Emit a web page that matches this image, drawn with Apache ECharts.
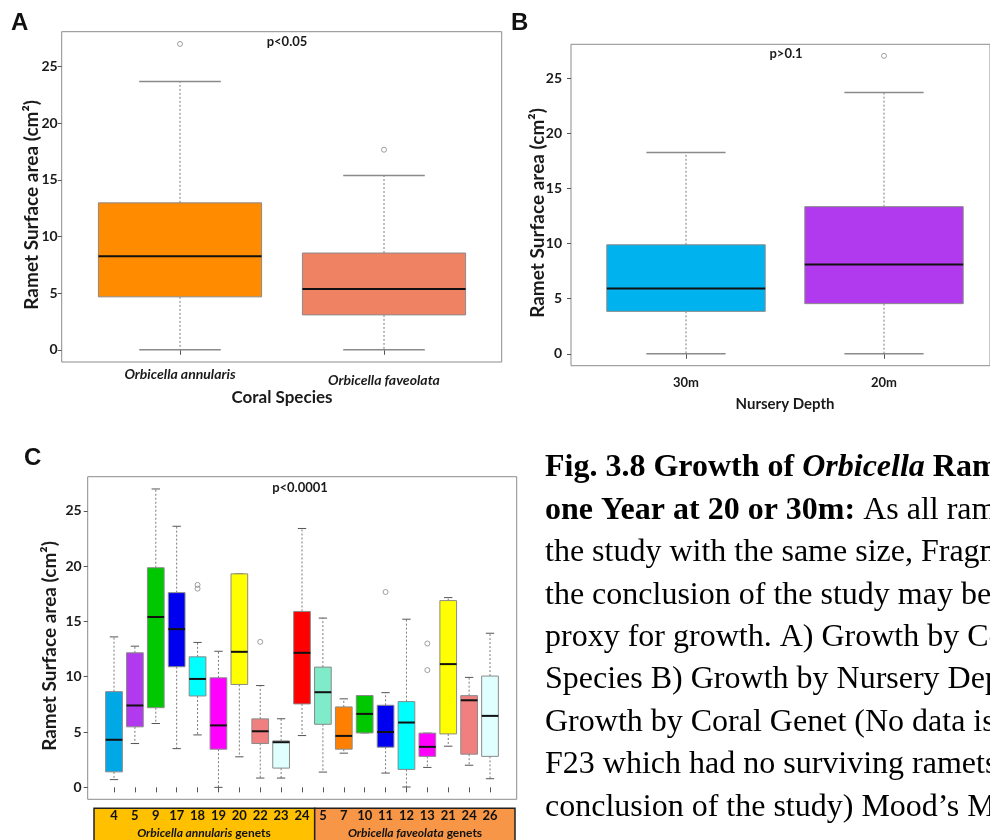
<!DOCTYPE html>
<html>
<head>
<meta charset="utf-8">
<script src="https://cdn.jsdelivr.net/npm/echarts@6/dist/echarts.min.js"></script>
<style>
  html, body { margin: 0; padding: 0; background: #fff; }
  #chart { width: 990px; height: 840px; }
</style>
</head>
<body>
<div id="chart"></div>
<script>
// Box statistics are [lower whisker, Q1, median, Q3, upper whisker]
const speciesNames = ['Orbicella annularis', 'Orbicella faveolata'];
const speciesStats = [
  [0, 4.67, 8.25, 12.97, 23.68],
  [0, 3.08, 5.37, 8.54, 15.38]
];
const speciesOutliers = [[0, 27.0], [1, 17.66]];
const speciesColors = ['#FF8C00', '#EE8262'];

const depthNames = ['30m', '20m'];
const depthStats = [
  [0, 3.85, 5.92, 9.89, 18.26],
  [0, 4.55, 8.10, 13.35, 23.70]
];
const depthOutliers = [[1, 27.03]];
const depthColors = ['#00B2EE', '#B23AEE'];

// Genet keys: A = O. annularis, F = O. faveolata
const genetKeys = ['A4', 'A5', 'A9', 'A17', 'A18', 'A19', 'A20', 'A22', 'A23', 'A24',
                   'F5', 'F7', 'F10', 'F11', 'F12', 'F13', 'F21', 'F24', 'F26'];
const genetStats = [
  [0.70, 1.40, 4.30, 8.65, 13.60],
  [3.96, 5.47, 7.40, 12.16, 12.76],
  [5.77, 7.20, 15.40, 19.85, 26.97],
  [3.50, 10.90, 14.30, 17.60, 23.60],
  [4.74, 8.26, 9.80, 11.80, 13.10],
  [0.00, 3.45, 5.60, 9.90, 12.30],
  [2.76, 9.30, 12.25, 19.30, 19.30],
  [0.84, 3.96, 5.07, 6.19, 9.20],
  [0.84, 1.74, 4.08, 4.20, 6.20],
  [4.68, 7.54, 12.16, 15.90, 23.40],
  [1.38, 5.70, 8.60, 10.87, 15.30],
  [3.09, 3.45, 4.65, 7.27, 8.00],
  [4.92, 4.92, 6.64, 8.30, 8.30],
  [1.29, 3.63, 5.00, 7.42, 8.56],
  [0.03, 1.62, 5.86, 7.75, 15.20],
  [1.80, 2.80, 3.66, 4.90, 4.90],
  [3.72, 4.83, 11.14, 16.88, 17.15],
  [2.00, 3.00, 7.87, 8.29, 9.94],
  [0.78, 2.80, 6.46, 10.06, 13.93]
];
const genetOutliers = [[4, 18.30], [4, 17.96], [7, 13.15], [13, 17.66], [15, 13.00], [15, 10.60]];
const genetColors = ['#00A9E6', '#B23AEE', '#00C800', '#0000F0', '#00FFFF', '#FF00FF', '#FFFF00',
                     '#F08080', '#E0FFFF', '#FF0000', '#7FEBC8', '#FF8000', '#00C800', '#0000F0',
                     '#00FFFF', '#FF00FF', '#FFFF00', '#F08080', '#E0FFFF'];

const yTicks = [0, 5, 10, 15, 20, 25];
const yName = 'Ramet Surface area (cm²)';

const SANS = 'Lato, "Open Sans", sans-serif';
const SERIF = '"Liberation Serif", "Times New Roman", serif';

// Draws one R-style box: dotted whiskers, half-width caps, filled box, black median
function boxItem(colors, capColor, capWidth, medWidth) {
  return function (params, api) {
    const i = api.value(0);
    const ys = [1, 2, 3, 4, 5].map(d => api.coord([i, api.value(d)])[1]);
    const cx = api.coord([i, 0])[0];
    const band = api.size([1, 0])[0];
    const hw = band * 0.4;
    const [yLow, yQ1, yMed, yQ3, yHigh] = ys;
    const dash = { stroke: '#7a7a7a', lineWidth: 1, lineDash: [2, 2] };
    const cap = { stroke: capColor, lineWidth: capWidth };
    return {
      type: 'group',
      children: [
        { type: 'line', shape: { x1: cx, y1: yQ3, x2: cx, y2: yHigh }, style: dash },
        { type: 'line', shape: { x1: cx, y1: yQ1, x2: cx, y2: yLow }, style: dash },
        { type: 'line', shape: { x1: cx - hw / 2, y1: yHigh, x2: cx + hw / 2, y2: yHigh }, style: cap },
        { type: 'line', shape: { x1: cx - hw / 2, y1: yLow, x2: cx + hw / 2, y2: yLow }, style: cap },
        { type: 'rect', shape: { x: cx - hw, y: yQ3, width: 2 * hw, height: yQ1 - yQ3 },
          style: { fill: colors[params.dataIndex], stroke: '#8a8a8a', lineWidth: 1 } },
        { type: 'line', shape: { x1: cx - hw, y1: yMed, x2: cx + hw, y2: yMed },
          style: { stroke: '#111', lineWidth: medWidth } }
      ]
    };
  };
}

function boxSeries(axisIdx, stats, colors, capColor, capWidth, medWidth) {
  return {
    type: 'custom',
    xAxisIndex: axisIdx, yAxisIndex: axisIdx,
    data: stats.map((s, i) => [i].concat(s)),
    encode: { x: 0, y: [1, 2, 3, 4, 5] },
    renderItem: boxItem(colors, capColor, capWidth, medWidth),
    silent: true
  };
}

function outlierSeries(axisIdx, pts, size) {
  return {
    type: 'scatter',
    xAxisIndex: axisIdx, yAxisIndex: axisIdx,
    data: pts,
    symbol: 'circle',
    symbolSize: size,
    itemStyle: { color: 'rgba(255,255,255,0)', borderColor: '#888', borderWidth: 1 },
    silent: true
  };
}

function frameAxis(grid) {
  return { type: 'value', gridIndex: grid, show: false, min: 0, max: 1 };
}

function valueAxis(grid, offset, nameGap, labelMargin) {
  return {
    type: 'value', gridIndex: grid, min: -1.08, max: 28.08, offset: offset, position: 'left',
    axisLine: { show: false },
    splitLine: { show: false },
    axisTick: { show: true, customValues: yTicks, length: 4, lineStyle: { color: '#555' } },
    axisLabel: { customValues: yTicks, margin: labelMargin, fontFamily: SANS, fontWeight: 'bold',
                 fontSize: 14, color: '#1a1a1a' },
    name: yName, nameLocation: 'middle', nameGap: nameGap, nameMoveOverlap: false,
    nameTextStyle: { fontFamily: SANS, fontWeight: 'bold', fontSize: 19, color: '#1a1a1a',
                     padding: [0, 16, 0, 0] }
  };
}

const chart = echarts.init(document.getElementById('chart'), null, { renderer: 'canvas' });

const option = {
  animation: false,
  backgroundColor: '#fff',
  grid: [
    // A: frame and data area
    { left: 61.7, top: 31.7, width: 440, height: 330.3, show: true, borderColor: '#8c8c8c', borderWidth: 1 },
    { left: 78, top: 31.7, width: 408, height: 330.3 },
    // B
    { left: 571, top: 44.3, width: 428, height: 321.4, show: true, borderColor: '#8c8c8c', borderWidth: 1 },
    { left: 587, top: 44.3, width: 396, height: 321.4 },
    // C
    { left: 87.7, top: 476.7, width: 429, height: 322.6, show: true, borderColor: '#8c8c8c', borderWidth: 1 },
    { left: 103.56, top: 476.7, width: 396.9, height: 322.6 }
  ],
  xAxis: [
    frameAxis(0),
    {
      type: 'category', gridIndex: 1, data: speciesNames,
      axisLine: { show: false },
      axisTick: { show: true, alignWithLabel: true, length: 5, lineStyle: { color: '#555' } },
      axisLabel: {
        margin: 5,
        formatter: (v, i) => (i === 1 ? '{lo|' + v + '}' : '{hi|' + v + '}'),
        rich: {
          hi: { fontFamily: SANS, fontStyle: 'italic', fontWeight: 'bold', fontSize: 14, color: '#1a1a1a' },
          lo: { fontFamily: SANS, fontStyle: 'italic', fontWeight: 'bold', fontSize: 14, color: '#1a1a1a',
                padding: [6, 0, 0, 0] }
        }
      },
      name: 'Coral Species', nameLocation: 'middle', nameGap: 27,
      nameTextStyle: { fontFamily: SANS, fontWeight: 'bold', fontSize: 17, color: '#1a1a1a' }
    },
    frameAxis(2),
    {
      type: 'category', gridIndex: 3, data: depthNames,
      axisLine: { show: false },
      axisTick: { show: true, alignWithLabel: true, length: 5, lineStyle: { color: '#555' } },
      axisLabel: { margin: 11, fontFamily: SANS, fontWeight: 'bold', fontSize: 13, color: '#1a1a1a' },
      name: 'Nursery Depth', nameLocation: 'middle', nameGap: 31,
      nameTextStyle: { fontFamily: SANS, fontWeight: 'bold', fontSize: 15, color: '#1a1a1a' }
    },
    frameAxis(4),
    {
      type: 'category', gridIndex: 5, data: genetKeys, z: 10,
      axisLine: { show: false },
      axisTick: { show: true, alignWithLabel: true, interval: 0, length: 5, lineStyle: { color: '#555' } },
      axisLabel: { interval: 0, margin: 10, formatter: v => v.slice(1),
                   fontFamily: SANS, fontWeight: 'bold', fontSize: 13, color: '#111' }
    }
  ],
  yAxis: [
    frameAxis(0),
    valueAxis(1, 16.3, 20, 4),
    frameAxis(2),
    valueAxis(3, 16, 24, 9),
    frameAxis(4),
    valueAxis(5, 15.86, 28, 6)
  ],
  series: [
    boxSeries(1, speciesStats, speciesColors, '#8a8a8a', 1.5, 2),
    outlierSeries(1, speciesOutliers, 5),
    boxSeries(3, depthStats, depthColors, '#8a8a8a', 1.5, 2),
    outlierSeries(3, depthOutliers, 5),
    boxSeries(5, genetStats, genetColors, '#555', 1, 2),
    outlierSeries(5, genetOutliers, 5)
  ],
  graphic: {
    elements: [
      // panel letters
      { type: 'text', x: 11, y: 11, style: { text: 'A', font: 'bold 24px "Liberation Sans", Arial, sans-serif', fill: '#111' } },
      { type: 'text', x: 511, y: 11, style: { text: 'B', font: 'bold 24px "Liberation Sans", Arial, sans-serif', fill: '#111' } },
      { type: 'text', x: 24, y: 446, style: { text: 'C', font: 'bold 24px "Liberation Sans", Arial, sans-serif', fill: '#111' } },
      // test results
      { type: 'text', x: 287, y: 42, style: { text: 'p<0.05', font: 'bold 13px ' + SANS, fill: '#1a1a1a', textAlign: 'center', textVerticalAlign: 'middle' } },
      { type: 'text', x: 786, y: 54, style: { text: 'p>0.1', font: 'bold 13px ' + SANS, fill: '#1a1a1a', textAlign: 'center', textVerticalAlign: 'middle' } },
      { type: 'text', x: 300, y: 488, style: { text: 'p<0.0001', font: 'bold 13px ' + SANS, fill: '#1a1a1a', textAlign: 'center', textVerticalAlign: 'middle' } },
      // species bands under the genet axis
      { type: 'rect', z: -1, shape: { x: 94, y: 808.3, width: 220.7, height: 40 },
        style: { fill: '#FFC000', stroke: '#222', lineWidth: 1.5 } },
      { type: 'rect', z: -1, shape: { x: 314.7, y: 808.3, width: 200.3, height: 40 },
        style: { fill: '#F79646', stroke: '#222', lineWidth: 1.5 } },
      { type: 'text', x: 204, y: 833, style: {
          text: '{i|Orbicella annularis}{n| genets}', textAlign: 'center', textVerticalAlign: 'middle',
          rich: { i: { font: 'italic bold 12px ' + SANS, fill: '#111' }, n: { font: 'bold 12px ' + SANS, fill: '#111' } } } },
      { type: 'text', x: 415, y: 833, style: {
          text: '{i|Orbicella faveolata}{n| genets}', textAlign: 'center', textVerticalAlign: 'middle',
          rich: { i: { font: 'italic bold 12px ' + SANS, fill: '#111' }, n: { font: 'bold 12px ' + SANS, fill: '#111' } } } }
    ]
  }
};

// Figure caption beside panel C
const captionLines = [
  '{b|Fig. 3.8 Growth of }{bi|Orbicella}{b| Ramets over}',
  '{b|one Year at 20 or 30m:}{r| As all ramets began}',
  '{r|the study with the same size, Fragment}',
  '{r|the conclusion of the study may be used}',
  '{r|proxy for growth. A) Growth by Coral}',
  '{r|Species B) Growth by Nursery Depth C)}',
  '{r|Growth by Coral Genet (No data is shown}',
  '{r|F23 which had no surviving ramets at}',
  '{r|conclusion of the study) Mood’s Median}'
];
const captionRich = {
  b: { font: 'bold 32px ' + SERIF, fill: '#000' },
  bi: { font: 'italic bold 32px ' + SERIF, fill: '#000' },
  r: { font: '32px ' + SERIF, fill: '#000' }
};
captionLines.forEach((line, k) => {
  option.graphic.elements.push({
    type: 'text', x: 545, y: 468 + k * 42.4,
    style: { text: line, rich: captionRich, textAlign: 'left', textVerticalAlign: 'middle' }
  });
});

chart.setOption(option);
</script>
</body>
</html>
